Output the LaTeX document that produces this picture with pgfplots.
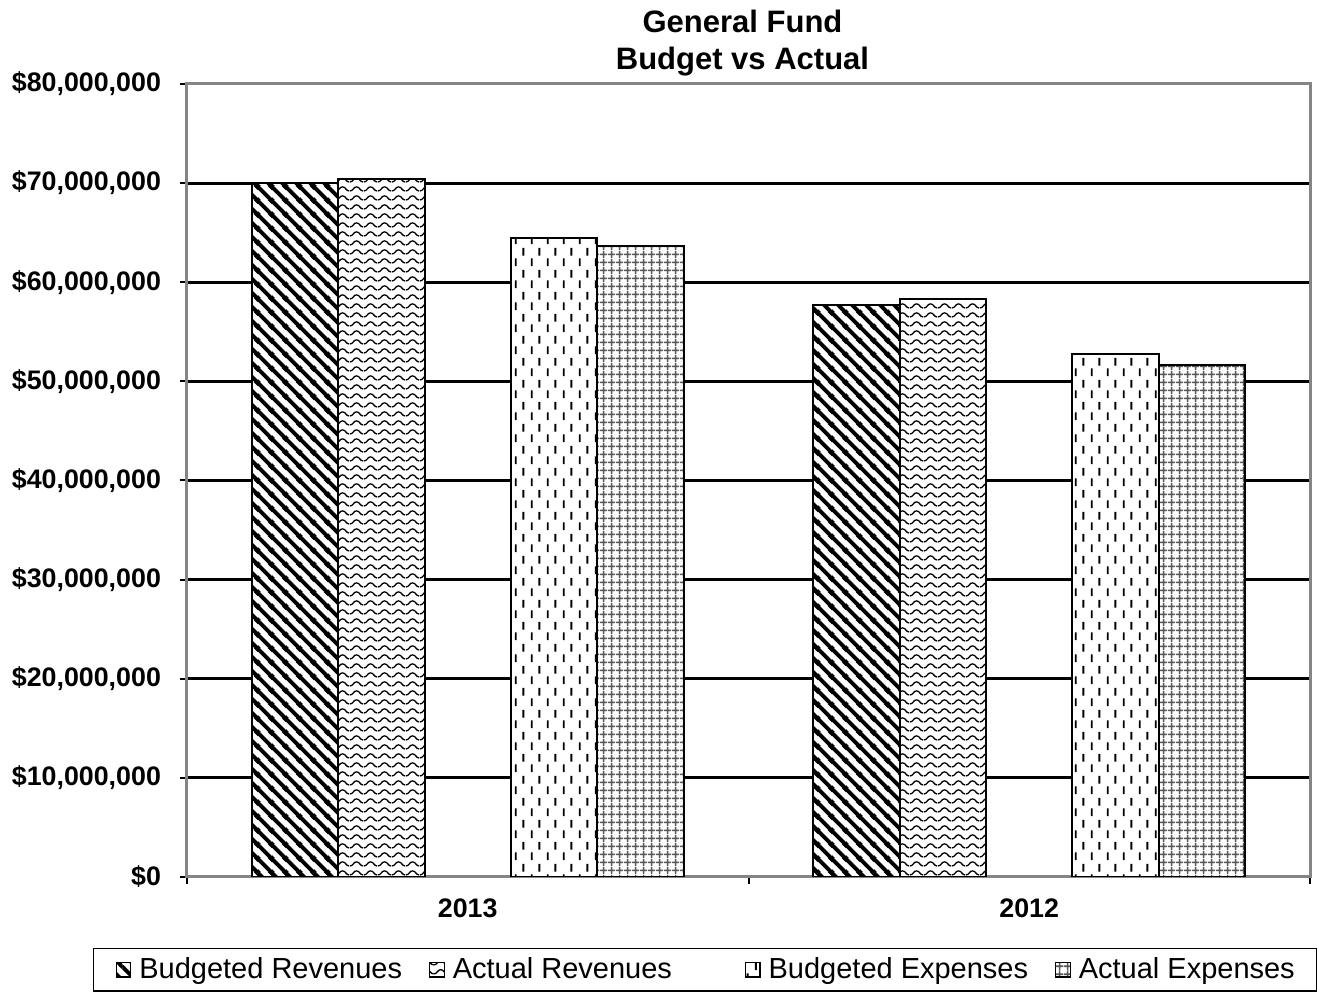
\documentclass[border=0pt]{standalone}
\usepackage{fontspec}
\setmainfont{Liberation Sans}
\usepackage{pgfplots}
\pgfplotsset{compat=1.18}
\usetikzlibrary{patterns}

\definecolor{framegray}{HTML}{858585}
\definecolor{gridgray}{HTML}{555555}

\pgfdeclarepatternformonly{diagNW}{\pgfqpoint{0pt}{0pt}}{\pgfqpoint{6.8pt}{6.8pt}}{\pgfqpoint{6.8pt}{6.8pt}}{%
  \pgfsetlinewidth{2pt}%
  \pgfpathmoveto{\pgfqpoint{-1pt}{7.8pt}}\pgfpathlineto{\pgfqpoint{7.8pt}{-1pt}}%
  \pgfpathmoveto{\pgfqpoint{-1pt}{1pt}}\pgfpathlineto{\pgfqpoint{1pt}{-1pt}}%
  \pgfpathmoveto{\pgfqpoint{5.8pt}{7.8pt}}\pgfpathlineto{\pgfqpoint{7.8pt}{5.8pt}}%
  \pgfusepath{stroke}}

\pgfdeclarepatternformonly{waves}{\pgfqpoint{0pt}{0pt}}{\pgfqpoint{7pt}{4.5pt}}{\pgfqpoint{7pt}{4.5pt}}{%
  \pgfsetlinewidth{0.7pt}%
  \pgfpathmoveto{\pgfqpoint{-0.1pt}{1.1pt}}%
  \pgfpathcurveto{\pgfqpoint{1.75pt}{1.1pt}}{\pgfqpoint{1.75pt}{3.4pt}}{\pgfqpoint{3.5pt}{3.4pt}}%
  \pgfpathcurveto{\pgfqpoint{5.25pt}{3.4pt}}{\pgfqpoint{5.25pt}{1.1pt}}{\pgfqpoint{7.1pt}{1.1pt}}%
  \pgfusepath{stroke}}

\pgfdeclarepatternformonly{vdashes}{\pgfqpoint{0pt}{0pt}}{\pgfqpoint{8pt}{11pt}}{\pgfqpoint{8pt}{11pt}}{%
  \pgfsetlinewidth{1pt}%
  \pgfpathmoveto{\pgfqpoint{2pt}{1pt}}\pgfpathlineto{\pgfqpoint{2pt}{5pt}}%
  \pgfpathmoveto{\pgfqpoint{6pt}{6.5pt}}\pgfpathlineto{\pgfqpoint{6pt}{10.5pt}}%
  \pgfusepath{stroke}}

\pgfdeclarepatternformonly{fgrid}{\pgfqpoint{0pt}{0pt}}{\pgfqpoint{4pt}{4pt}}{\pgfqpoint{4pt}{4pt}}{%
  \pgfsetlinewidth{0.85pt}%
  \pgfpathmoveto{\pgfqpoint{2pt}{0pt}}\pgfpathlineto{\pgfqpoint{2pt}{4pt}}%
  \pgfpathmoveto{\pgfqpoint{0pt}{2pt}}\pgfpathlineto{\pgfqpoint{4pt}{2pt}}%
  \pgfusepath{stroke}}

\pgfplotsset{
  mybar/.style={draw=black, line width=1pt, fill=white,
    legend image code/.code={%
      \draw[##1, line width=0.6pt] (0pt,-3.6pt) rectangle (7.2pt,3.6pt);
      \path (11pt,0pt);}},
}

\begin{document}
\begin{tikzpicture}
\begin{axis}[
  name=ax,
  scale only axis, width=561.5pt, height=396.5pt,
  xmin=-0.5, xmax=1.5, ymin=0, ymax=80,
  ybar, bar width=0.154,
  axis line style={draw=framegray, line width=1.5pt},
  xtick={-0.5,0.5,1.5}, xticklabels={},
  extra x ticks={0,1}, extra x tick labels={2013,2012},
  extra x tick style={major tick length=0pt},
  ytick={0,10,20,30,40,50,60,70,80},
  yticklabels={\$0,{\$10,000,000},{\$20,000,000},{\$30,000,000},{\$40,000,000},{\$50,000,000},{\$60,000,000},{\$70,000,000},{\$80,000,000}},
  tick align=outside, major tick length=3.5pt,
  tick style={black, line width=1pt},
  xtick pos=bottom, ytick pos=left,
  ymajorgrids, major grid style={black, line width=1.5pt},
  ticklabel style={font=\bfseries\fontsize{13.4}{15}\selectfont},
  xticklabel style={yshift=-7.5pt},
  yticklabel style={xshift=-6pt},
  title={General Fund\\Budget vs Actual},
  title style={align=center, font=\bfseries\fontsize{15.5}{18.5}\selectfont, xshift=-3pt, yshift=-5.5pt},
  legend columns=4,
  legend style={at={(axis description cs:0,0)}, anchor=north west,
    xshift=-47pt, yshift=-35.5pt, draw=black, line width=0.75pt,
    font=\fontsize{14.5}{17}\selectfont,
    inner xsep=11pt, inner ysep=4.5pt,
    nodes={inner xsep=0pt, inner ysep=0pt},
    /tikz/every even column/.append style={column sep=13.5pt}},
]
\addplot[mybar, bar shift=-0.308, postaction={pattern=diagNW}] coordinates {(0,70.0) (1,57.7)};
\addlegendentry{Budgeted Revenues}
\addplot[mybar, bar shift=-0.154, postaction={pattern=waves}] coordinates {(0,70.4) (1,58.3)};
\addlegendentry{Actual Revenues\rule{23pt}{0pt}}
\addplot[mybar, bar shift=0.154, postaction={pattern=vdashes}] coordinates {(0,64.5) (1,52.8)};
\addlegendentry{Budgeted Expenses}
\addplot[mybar, bar shift=0.308, postaction={pattern=fgrid, pattern color=gridgray}] coordinates {(0,63.7) (1,51.7)};
\addlegendentry{Actual Expenses}
\end{axis}
\pgfresetboundingbox
\path ([shift={(-93.5pt,-58.5pt)}]ax.south west) rectangle ([shift={(3.5pt,42pt)}]ax.north east);
\end{tikzpicture}
\end{document}
